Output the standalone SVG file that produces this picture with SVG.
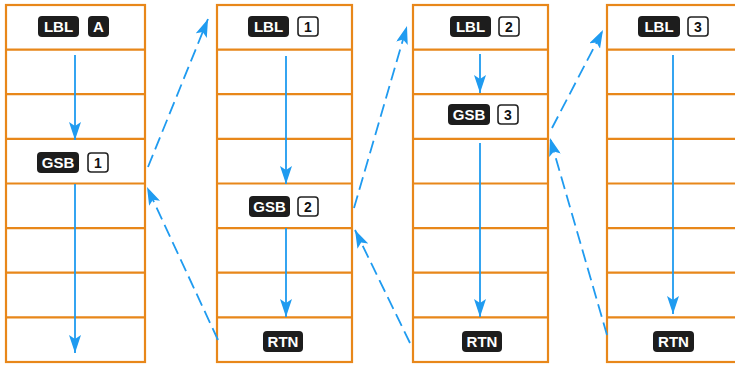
<svg xmlns="http://www.w3.org/2000/svg" width="735" height="367" viewBox="0 0 735 367">
<defs>
<style>
.frame{fill:#fff;stroke:#e8871a;stroke-width:2.2}
.row{stroke:#e8871a;stroke-width:2.2;fill:none}
.key rect{fill:#1d1d1d}
.key text{fill:#fff;font-family:"Liberation Sans",Arial,sans-serif;font-weight:bold;font-size:15px;text-anchor:middle}
.num rect{fill:#fff;stroke:#222;stroke-width:1.6}
.num text{fill:#111;font-family:"Liberation Sans",Arial,sans-serif;font-weight:bold;font-size:14px;text-anchor:middle}
.flow{stroke:#1f9bf0;stroke-width:1.8;fill:none}
.dash{stroke:#1f9bf0;stroke-width:1.8;fill:none;stroke-dasharray:13 6}
</style>
<marker id="ah" viewBox="0 0 18 12" refX="18" refY="6" markerWidth="18" markerHeight="12" markerUnits="userSpaceOnUse" orient="auto">
<path d="M0,0 L18,6 L0,12 L4,6 z" fill="#1f9bf0"/>
</marker>
</defs>
<rect width="735" height="367" fill="#fff"/>

<g id="col1">
<rect class="frame" x="6" y="5" width="139" height="357"/>
<path class="row" d="M6,49.6h139M6,94.2h139M6,138.9h139M6,183.5h139M6,228.1h139M6,272.7h139M6,317.4h139"/>
<g class="key"><rect x="38" y="16" width="41" height="21" rx="4"/><text x="58.5" y="32">LBL</text></g>
<g class="key"><rect x="88" y="16" width="21" height="21" rx="4"/><text x="98.5" y="32">A</text></g>
<g class="key"><rect x="37" y="152" width="42" height="21" rx="4"/><text x="58" y="168">GSB</text></g>
<g class="num"><rect x="88" y="153" width="20" height="19" rx="3"/><text x="98" y="167.5">1</text></g>
</g>

<g id="col2">
<rect class="frame" x="217" y="5" width="135" height="357"/>
<path class="row" d="M217,49.6h135M217,94.2h135M217,138.9h135M217,183.5h135M217,228.1h135M217,272.7h135M217,317.4h135"/>
<g class="key"><rect x="248" y="16" width="41" height="21" rx="4"/><text x="268.5" y="32">LBL</text></g>
<g class="num"><rect x="298" y="17" width="20" height="19" rx="3"/><text x="308" y="31.5">1</text></g>
<g class="key"><rect x="249" y="196" width="41" height="21" rx="4"/><text x="269.5" y="212">GSB</text></g>
<g class="num"><rect x="298" y="197" width="20" height="19" rx="3"/><text x="308" y="211.5">2</text></g>
<g class="key"><rect x="263" y="331" width="40" height="21" rx="4"/><text x="283" y="347">RTN</text></g>
</g>

<g id="col3">
<rect class="frame" x="413" y="5" width="135" height="357"/>
<path class="row" d="M413,49.6h135M413,94.2h135M413,138.9h135M413,183.5h135M413,228.1h135M413,272.7h135M413,317.4h135"/>
<g class="key"><rect x="450" y="16" width="41" height="21" rx="4"/><text x="470.5" y="32">LBL</text></g>
<g class="num"><rect x="499" y="17" width="20" height="19" rx="3"/><text x="509" y="31.5">2</text></g>
<g class="key"><rect x="448" y="104" width="42" height="21" rx="4"/><text x="469" y="120">GSB</text></g>
<g class="num"><rect x="498" y="105" width="20" height="19" rx="3"/><text x="508" y="119.5">3</text></g>
<g class="key"><rect x="462" y="331" width="40" height="21" rx="4"/><text x="482" y="347">RTN</text></g>
</g>

<g id="col4">
<rect class="frame" x="607" y="5" width="139" height="357"/>
<path class="row" d="M607,49.6h139M607,94.2h139M607,138.9h139M607,183.5h139M607,228.1h139M607,272.7h139M607,317.4h139"/>
<g class="key"><rect x="638" y="16" width="42" height="21" rx="4"/><text x="659" y="32">LBL</text></g>
<g class="num"><rect x="688" y="17" width="20" height="19" rx="3"/><text x="698" y="31.5">3</text></g>
<g class="key"><rect x="653" y="331" width="41" height="21" rx="4"/><text x="673.5" y="347">RTN</text></g>
</g>

<g id="connectors">
<line class="flow" x1="75" y1="55" x2="75" y2="140" marker-end="url(#ah)"/>
<line class="flow" x1="75" y1="184" x2="75" y2="353" marker-end="url(#ah)"/>
<line class="flow" x1="286" y1="56" x2="286" y2="184" marker-end="url(#ah)"/>
<line class="flow" x1="286" y1="228" x2="286" y2="317" marker-end="url(#ah)"/>
<line class="flow" x1="480" y1="54" x2="480" y2="93" marker-end="url(#ah)"/>
<line class="flow" x1="480" y1="143" x2="480" y2="317" marker-end="url(#ah)"/>
<line class="flow" x1="673" y1="55" x2="673" y2="314" marker-end="url(#ah)"/>
<line class="dash" x1="148" y1="167" x2="208" y2="19" marker-end="url(#ah)"/>
<line class="dash" x1="218" y1="340" x2="147" y2="187" marker-end="url(#ah)"/>
<line class="dash" x1="354" y1="208" x2="407" y2="26" marker-end="url(#ah)"/>
<line class="dash" x1="410" y1="343" x2="355" y2="230" marker-end="url(#ah)"/>
<line class="dash" x1="552" y1="128" x2="603" y2="30" marker-end="url(#ah)"/>
<line class="dash" x1="607" y1="335" x2="550" y2="138" marker-end="url(#ah)"/>
</g>
</svg>
